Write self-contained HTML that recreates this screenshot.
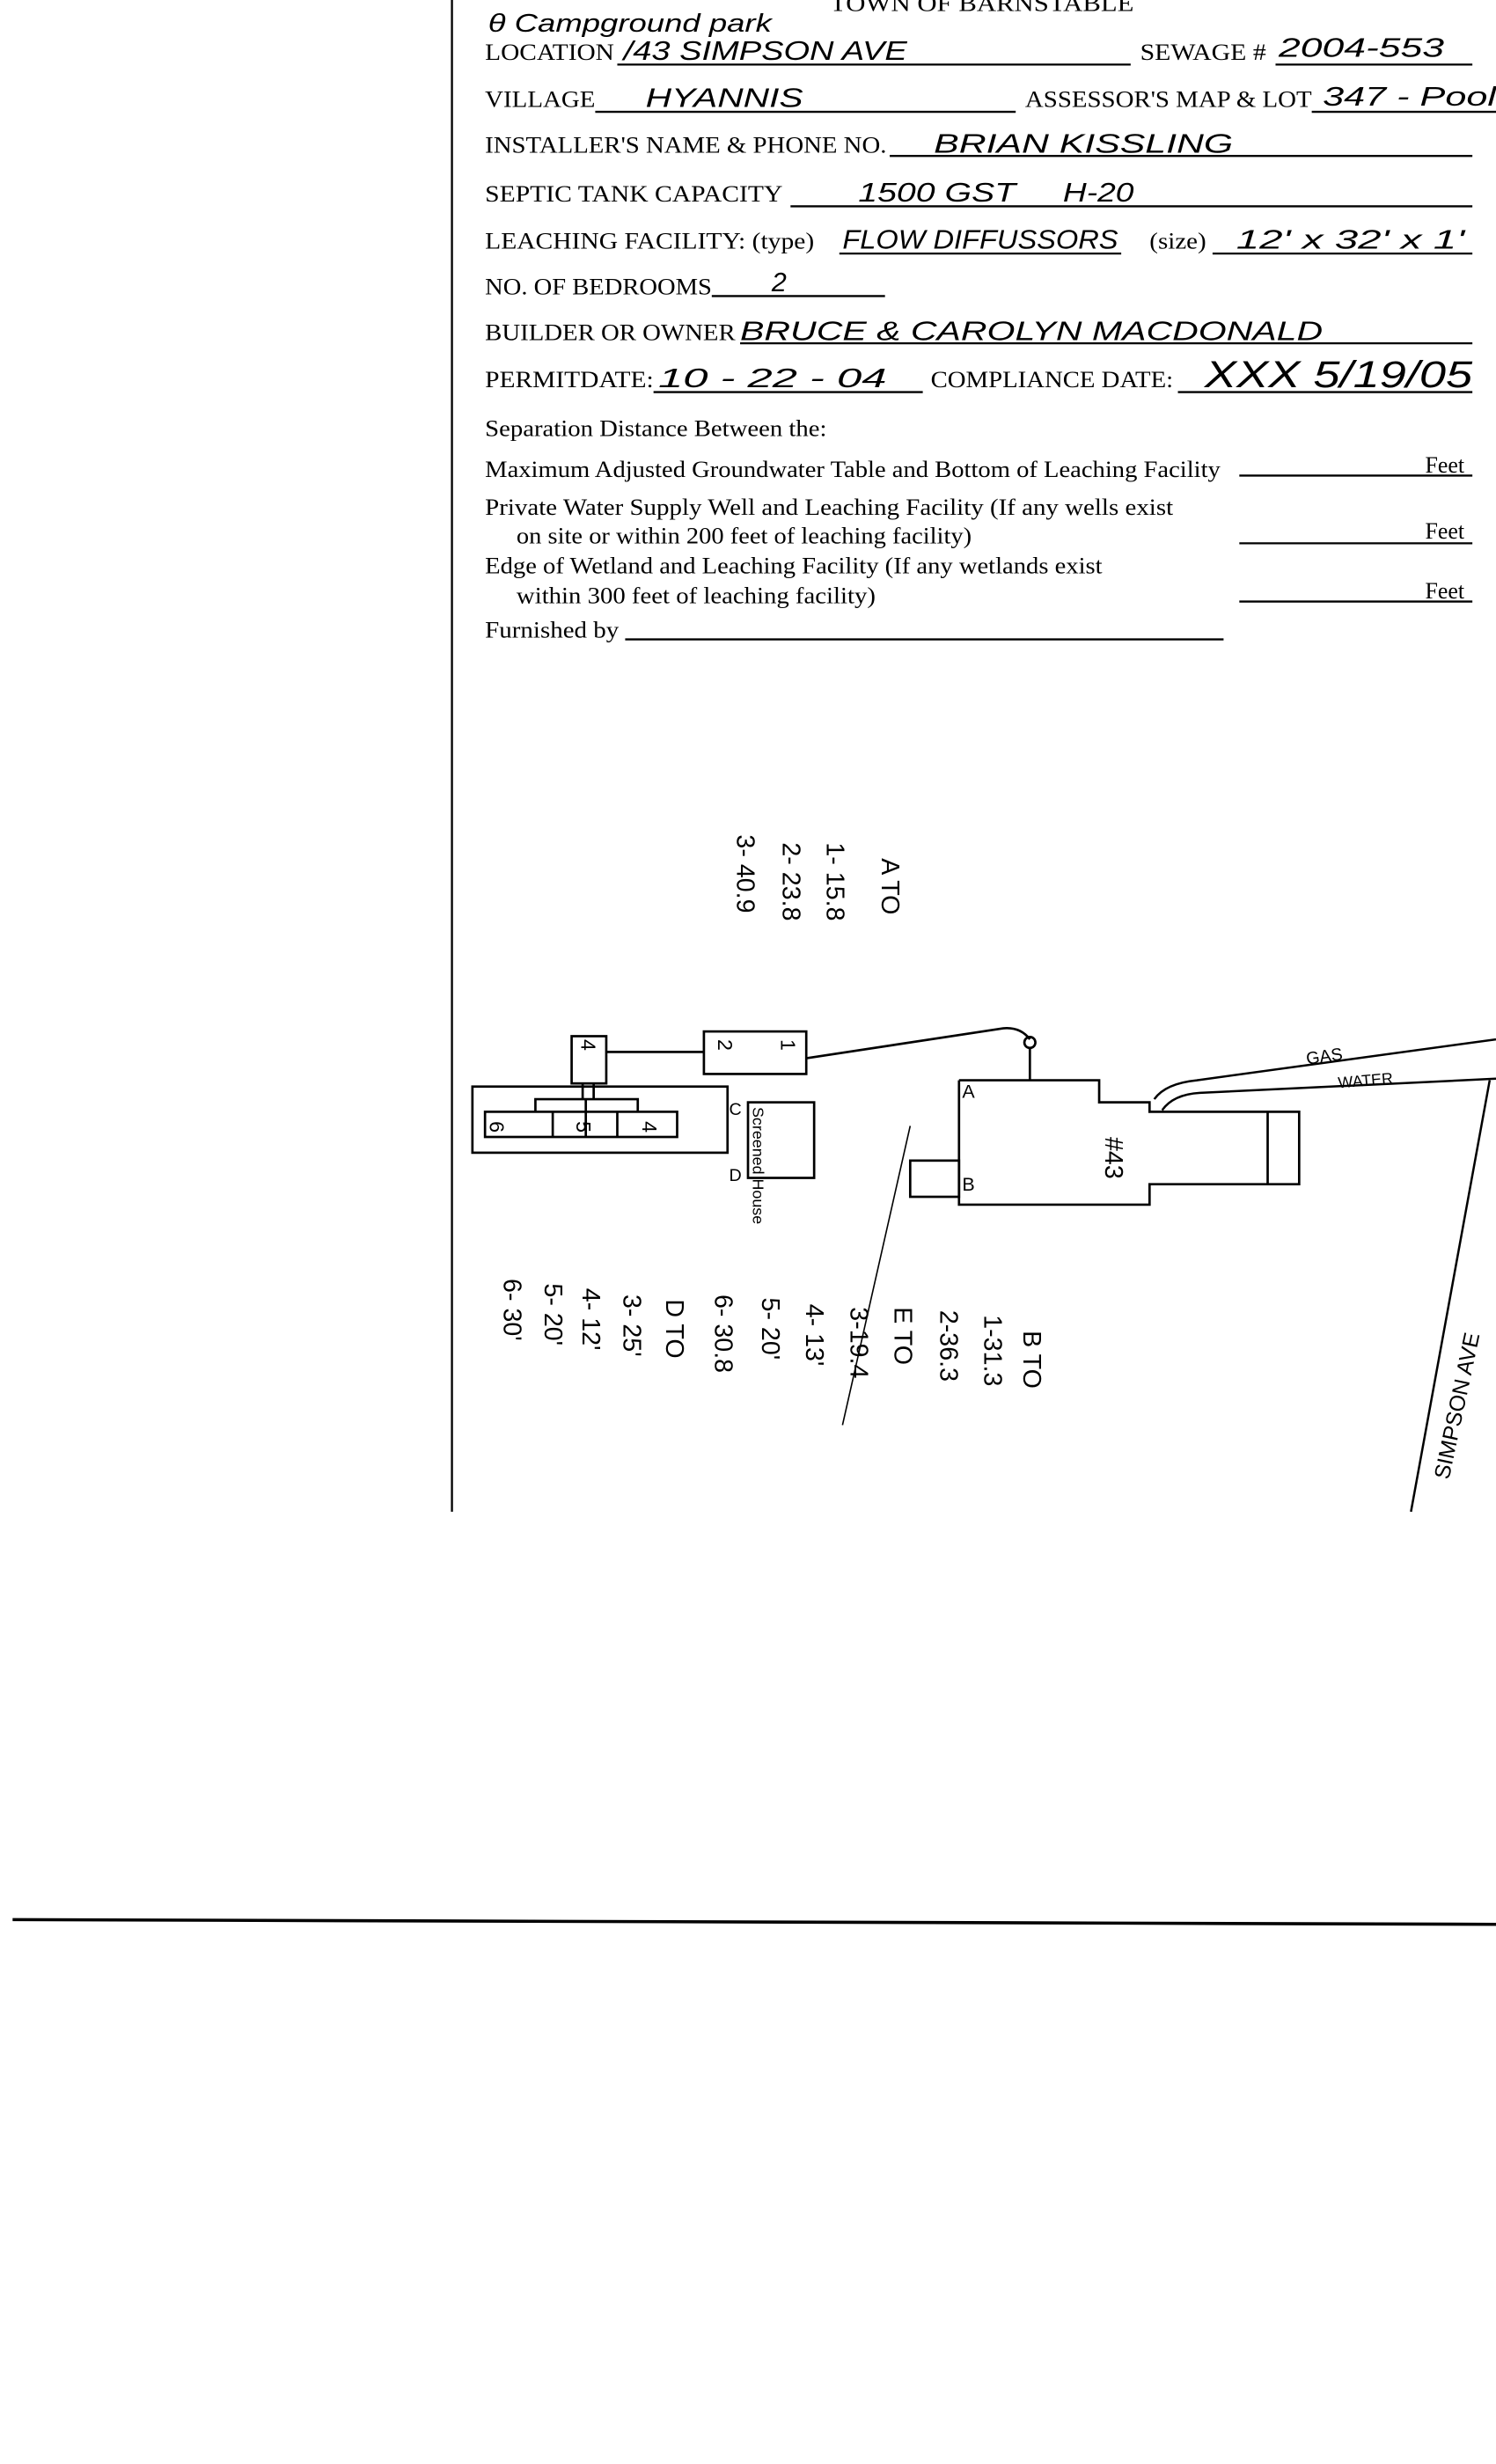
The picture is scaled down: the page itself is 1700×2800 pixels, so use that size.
<!DOCTYPE html>
<html><head><meta charset="utf-8"><style>html,body{margin:0;padding:0;background:#fff}svg{display:block}</style></head>
<body>
<svg width="1700" height="2800" viewBox="0 0 950 1564.7" preserveAspectRatio="none" xmlns="http://www.w3.org/2000/svg">
<rect width="950" height="1564.7" fill="#fff"/>
<g stroke="#000" fill="none">
<line x1="287" y1="0" x2="287" y2="960" stroke-width="1.3"/>
<line x1="8" y1="1219" x2="950" y2="1222" stroke-width="2"/>
</g>
<g font-family="Liberation Serif, serif" font-size="14.5" fill="#000">
<text x="527" y="7" textLength="193" lengthAdjust="spacingAndGlyphs">TOWN OF BARNSTABLE</text>
<text x="308" y="38" textLength="82" lengthAdjust="spacingAndGlyphs">LOCATION</text>
<text x="724" y="38" textLength="80" lengthAdjust="spacingAndGlyphs">SEWAGE #</text>
<text x="308" y="68" textLength="70" lengthAdjust="spacingAndGlyphs">VILLAGE</text>
<text x="651" y="68" textLength="182" lengthAdjust="spacingAndGlyphs">ASSESSOR'S MAP &amp; LOT</text>
<text x="308" y="97" textLength="255" lengthAdjust="spacingAndGlyphs">INSTALLER'S NAME &amp; PHONE NO.</text>
<text x="308" y="128" textLength="189" lengthAdjust="spacingAndGlyphs">SEPTIC TANK CAPACITY</text>
<text x="308" y="158" textLength="209" lengthAdjust="spacingAndGlyphs">LEACHING FACILITY: (type)</text>
<text x="730" y="158" textLength="36" lengthAdjust="spacingAndGlyphs">(size)</text>
<text x="308" y="187" textLength="144" lengthAdjust="spacingAndGlyphs">NO. OF BEDROOMS</text>
<text x="308" y="216" textLength="159" lengthAdjust="spacingAndGlyphs">BUILDER OR OWNER</text>
<text x="308" y="246" textLength="107" lengthAdjust="spacingAndGlyphs">PERMITDATE:</text>
<text x="591" y="246" textLength="154" lengthAdjust="spacingAndGlyphs">COMPLIANCE DATE:</text>
<text x="308" y="277" textLength="217" lengthAdjust="spacingAndGlyphs">Separation Distance Between the:</text>
<text x="308" y="303" textLength="467" lengthAdjust="spacingAndGlyphs">Maximum Adjusted Groundwater Table and Bottom of Leaching Facility</text>
<text x="905" y="300">Feet</text>
<text x="308" y="327" textLength="437" lengthAdjust="spacingAndGlyphs">Private Water Supply Well and Leaching Facility  (If any wells exist</text>
<text x="328" y="345" textLength="289" lengthAdjust="spacingAndGlyphs">on site or within 200 feet of leaching facility)</text>
<text x="905" y="342">Feet</text>
<text x="308" y="364" textLength="392" lengthAdjust="spacingAndGlyphs">Edge of Wetland and Leaching Facility (If any wetlands exist</text>
<text x="328" y="383" textLength="228" lengthAdjust="spacingAndGlyphs">within 300 feet of leaching facility)</text>
<text x="905" y="380">Feet</text>
<text x="308" y="405" textLength="85" lengthAdjust="spacingAndGlyphs">Furnished by</text>
</g>
<g stroke="#000" stroke-width="1.3">
<line x1="392" y1="41" x2="718" y2="41"/><line x1="810" y1="41" x2="935" y2="41"/>
<line x1="378" y1="71" x2="645" y2="71"/><line x1="833" y1="71" x2="950" y2="71"/>
<line x1="565" y1="99" x2="935" y2="99"/>
<line x1="502" y1="131" x2="935" y2="131"/>
<line x1="533" y1="161" x2="712" y2="161"/><line x1="770" y1="161" x2="935" y2="161"/>
<line x1="452" y1="188" x2="562" y2="188"/>
<line x1="470" y1="218" x2="935" y2="218"/>
<line x1="415" y1="249" x2="586" y2="249"/><line x1="748" y1="249" x2="935" y2="249"/>
<line x1="787" y1="302" x2="935" y2="302"/>
<line x1="787" y1="345" x2="935" y2="345"/>
<line x1="787" y1="382" x2="935" y2="382"/>
<line x1="397" y1="406" x2="777" y2="406"/>
</g>
<g font-family="Liberation Sans, sans-serif" font-style="italic" font-size="17" fill="#000">
<text x="310" y="20" font-size="16" textLength="180" lengthAdjust="spacingAndGlyphs">θ Campground park</text>
<text x="396" y="38" textLength="180" lengthAdjust="spacingAndGlyphs">/43 SIMPSON AVE</text>
<text x="812" y="36" textLength="105" lengthAdjust="spacingAndGlyphs">2004-553</text>
<text x="410" y="68" textLength="100" lengthAdjust="spacingAndGlyphs">HYANNIS</text>
<text x="840" y="67" textLength="110" lengthAdjust="spacingAndGlyphs">347 - Pool</text>
<text x="593" y="97" textLength="190" lengthAdjust="spacingAndGlyphs">BRIAN  KISSLING</text>
<text x="545" y="128" textLength="100" lengthAdjust="spacingAndGlyphs">1500 GST</text>
<text x="675" y="128" textLength="45" lengthAdjust="spacingAndGlyphs">H-20</text>
<text x="535" y="158" textLength="175" lengthAdjust="spacingAndGlyphs">FLOW DIFFUSSORS</text>
<text x="785" y="158" textLength="145" lengthAdjust="spacingAndGlyphs">12' x 32' x 1'</text>
<text x="490" y="185">2</text>
<text x="470" y="216" textLength="370" lengthAdjust="spacingAndGlyphs">BRUCE &amp; CAROLYN MACDONALD</text>
<text x="418" y="246" textLength="145" lengthAdjust="spacingAndGlyphs">10 - 22 - 04</text>
<text x="765" y="246" font-size="24" textLength="170" lengthAdjust="spacingAndGlyphs">XXX 5/19/05</text>
</g>
<!-- diagram -->
<g stroke="#000" stroke-width="1.5" fill="none">
<rect x="300" y="690" width="162" height="42"/>
<rect x="308" y="706" width="122" height="16"/>
<line x1="351" y1="706" x2="351" y2="722"/><line x1="392" y1="706" x2="392" y2="722"/>
<polyline points="340,706 340,698 405,698 405,706"/>
<line x1="372" y1="698" x2="372" y2="722"/>
<rect x="363" y="658" width="22" height="30"/>
<line x1="370" y1="688" x2="370" y2="698"/><line x1="377" y1="688" x2="377" y2="698"/>
<line x1="385" y1="668" x2="447" y2="668"/>
<rect x="447" y="655" width="65" height="27"/>
<path d="M512,672 L637,653 Q648,652 654,660"/>
<circle cx="654" cy="662" r="3.5"/>
<line x1="654" y1="666" x2="654" y2="686"/>
<rect x="475" y="700" width="42" height="48"/>
<polyline points="609,686 698,686 698,700 730,700 730,706 825,706 825,752 730,752 730,765 609,765 609,686"/>
<line x1="805" y1="706" x2="805" y2="752"/>
<rect x="578" y="737" width="31" height="23"/>
<path d="M733,698 Q740,688 760,686 L950,660" stroke-width="1.4"/>
<path d="M738,705 Q745,695 762,694 L950,685" stroke-width="1.4"/>
<line x1="946" y1="686" x2="896" y2="960" stroke-width="1.4"/>
<line x1="578" y1="715" x2="535" y2="905" stroke-width="0.9"/>
</g>
<g font-family="Liberation Sans, sans-serif" font-size="13" fill="#000">
<text transform="translate(311,712) rotate(90)">6</text>
<text transform="translate(366,712) rotate(90)">5</text>
<text transform="translate(408,712) rotate(90)">4</text>
<text transform="translate(369,660) rotate(90)">4</text>
<text transform="translate(456,660) rotate(90)">2</text>
<text transform="translate(496,660) rotate(90)">1</text>
<text transform="translate(478,703) rotate(90)" font-size="10">Screened House</text>
<text x="463" y="708" font-size="11">C</text>
<text x="463" y="750" font-size="11">D</text>
<text x="611" y="697" font-size="12">A</text>
<text x="611" y="756" font-size="12">B</text>
<text transform="translate(702,722) rotate(90)" font-size="16">#43</text>
<text x="830" y="676" font-size="11" transform="rotate(-8 830 676)">GAS</text>
<text x="850" y="691" font-size="10" transform="rotate(-5 850 691)">WATER</text>
<text transform="translate(920,940) rotate(-78)" font-size="14">SIMPSON AVE</text>
</g>
<g font-family="Liberation Sans, sans-serif" font-size="16" fill="#000">
<text transform="translate(560,545) rotate(90)">A TO</text>
<text transform="translate(525,535) rotate(90)">1- 15.8</text>
<text transform="translate(497,535) rotate(90)">2- 23.8</text>
<text transform="translate(468,530) rotate(90)">3- 40.9</text>
<text transform="translate(650,845) rotate(90)">B TO</text>
<text transform="translate(625,835) rotate(90)">1-31.3</text>
<text transform="translate(597,832) rotate(90)">2-36.3</text>
<text transform="translate(568,830) rotate(90)">E TO</text>
<text transform="translate(540,830) rotate(90)">3-19.4</text>
<text transform="translate(512,828) rotate(90)">4- 13'</text>
<text transform="translate(484,824) rotate(90)">5- 20'</text>
<text transform="translate(454,822) rotate(90)">6- 30.8</text>
<text transform="translate(423,825) rotate(90)">D TO</text>
<text transform="translate(396,822) rotate(90)">3- 25'</text>
<text transform="translate(370,818) rotate(90)">4- 12'</text>
<text transform="translate(346,815) rotate(90)">5- 20'</text>
<text transform="translate(320,812) rotate(90)">6- 30'</text>
</g>
</svg>
</body></html>
